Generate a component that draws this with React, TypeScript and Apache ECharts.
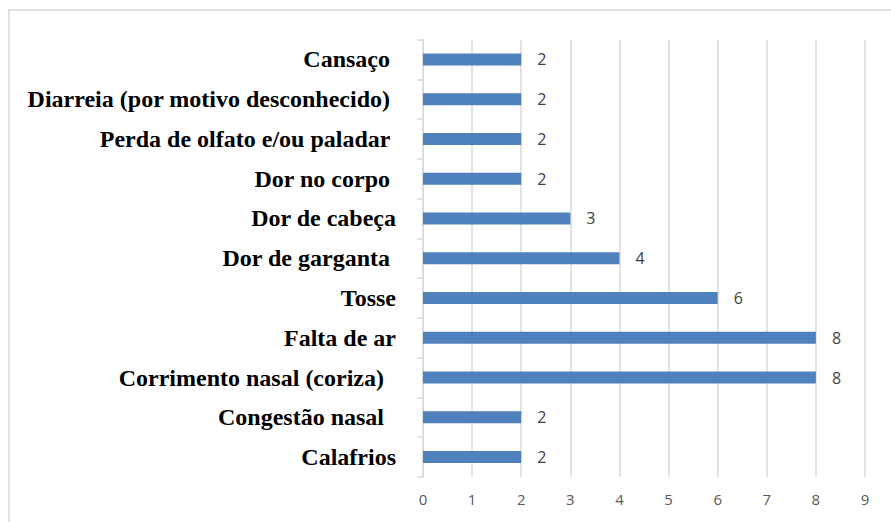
import React, { useEffect, useRef } from "react";
import * as echarts from "echarts";

const categories = [
  "Calafrios",
  "Congestão nasal  ",
  "Corrimento nasal (coriza)  ",
  "Falta de ar",
  "Tosse",
  "Dor de garganta ",
  "Dor de cabeça",
  "Dor no corpo ",
  "Perda de olfato e/ou paladar ",
  "Diarreia (por motivo desconhecido) ",
  "Cansaço ",
];
const values = [2, 2, 8, 8, 6, 4, 3, 2, 2, 2, 2];
const xTicks = [0, 1, 2, 3, 4, 5, 6, 7, 8, 9];

export default function App() {
  const ref = useRef<HTMLDivElement>(null);
  useEffect(() => {
    document.body.style.margin = "0";
    const chart = echarts.init(ref.current!, null, { renderer: "svg" });
    chart.setOption({
      animation: false,
      backgroundColor: "#ffffff",
      graphic: [
        {
          type: "rect",
          shape: { x: 9, y: 10, width: 1000, height: 1000 },
          style: { fill: "none", stroke: "#d9d9d9", lineWidth: 1.5 },
          silent: true,
        },
      ],
      grid: { left: 423, right: 26, top: 39.5, bottom: 45, containLabel: false },
      xAxis: {
        type: "value",
        min: xTicks[0],
        max: xTicks[xTicks.length - 1],
        interval: 1,
        axisLine: { show: false },
        axisTick: { show: false },
        splitLine: { show: true, lineStyle: { color: "#d9d9d9", width: 1.5 } },
        axisLabel: {
          color: "#595959",
          fontSize: 15,
          fontFamily: "Open Sans",
          margin: 14,
        },
      },
      yAxis: {
        type: "category",
        data: categories,
        axisLine: { show: true, lineStyle: { color: "#d9d9d9", width: 1.5 } },
        axisTick: { show: true, length: 6, lineStyle: { color: "#d9d9d9", width: 1.5 } },
        axisLabel: {
          color: "#000000",
          fontSize: 24,
          fontWeight: "bold",
          fontFamily: "Liberation Serif",
          margin: 27,
        },
      },
      series: [
        {
          type: "bar",
          data: values,
          barWidth: 12,
          itemStyle: { color: "#4f81bd" },
          label: {
            show: true,
            position: "right",
            distance: 16,
            color: "#404040",
            fontSize: 16,
            fontFamily: "Open Sans",
          },
        },
      ],
    });
    return () => chart.dispose();
  }, []);
  return <div ref={ref} style={{ width: 891, height: 522 }} />;
}
